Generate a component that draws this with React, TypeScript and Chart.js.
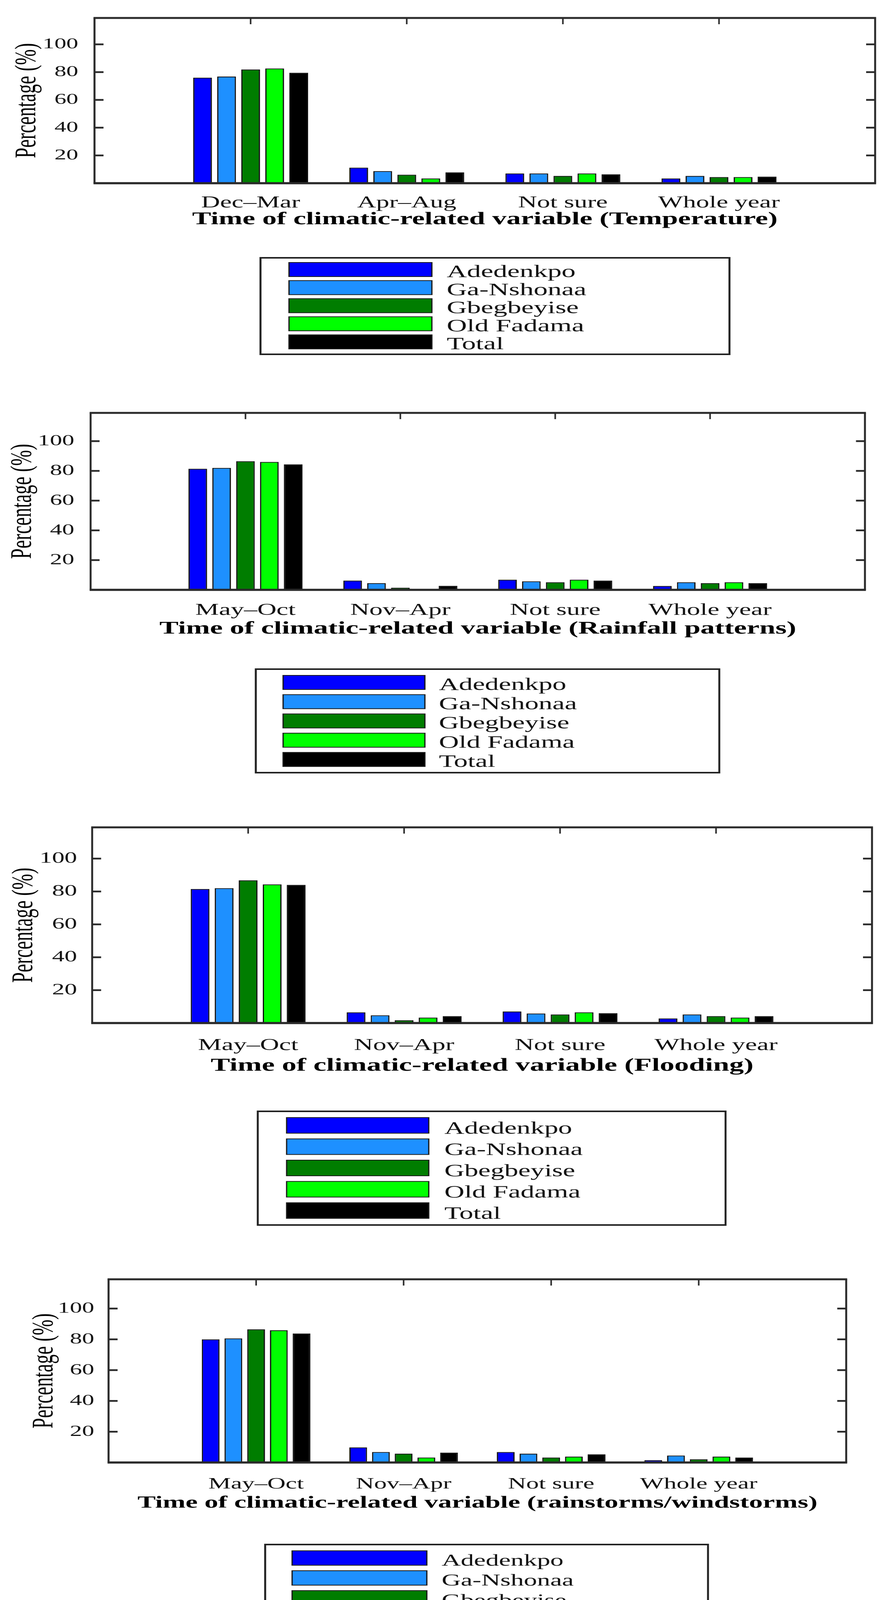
import { useEffect, useRef } from "react";
import { Chart, registerables } from "chart.js";
import type { Plugin } from "chart.js";

Chart.register(...registerables);

// the figure is drawn on a narrow canvas and stretched sideways to the page width,
// the same way the reference figure was stretched
const PAGE_W = 2274;
const PAGE_H = 4261;
const CANVAS_W = 1421;
const SX = PAGE_W / CANVAS_W;

const FONT = "'Liberation Serif', 'Times New Roman', serif";

const seriesNames = ["Adedenkpo", "Ga-Nshonaa", "Gbegbeyise", "Old Fadama", "Total"];
const seriesColors = ["#0000ff", "#1e90ff", "#007d00", "#00ff00", "#000000"];

const temperatureCategories = ["Dec–Mar", "Apr–Aug", "Not sure", "Whole year"];
const rainyCategories = ["May–Oct", "Nov–Apr", "Not sure", "Whole year"];

const yMax = 119;
const yStep = 20;

// Temperature
const tempAdedenkpo = [76.0, 11.2, 7.0, 3.4];
const tempGaNshonaa = [76.8, 8.7, 7.0, 5.2];
const tempGbegbeyise = [81.9, 6.1, 5.2, 4.4];
const tempOldFadama = [82.6, 3.4, 7.0, 4.4];
const tempTotal = [79.5, 7.8, 6.4, 4.7];

// Rainfall patterns
const rainAdedenkpo = [81.4, 6.2, 6.8, 2.6];
const rainGaNshonaa = [82.0, 4.5, 5.7, 5.1];
const rainGbegbeyise = [86.5, 1.4, 5.1, 4.5];
const rainOldFadama = [86.0, 0, 6.8, 5.1];
const rainTotal = [84.4, 2.7, 6.2, 4.5];

// Flooding
const floodAdedenkpo = [81.5, 6.5, 7.0, 2.8];
const floodGaNshonaa = [82.0, 4.7, 5.8, 5.2];
const floodGbegbeyise = [86.8, 1.7, 5.2, 4.2];
const floodOldFadama = [84.3, 3.3, 6.5, 3.3];
const floodTotal = [84.0, 4.2, 6.0, 4.2];

// Rainstorms / windstorms
const stormAdedenkpo = [80.0, 9.8, 6.8, 1.5];
const stormGaNshonaa = [80.6, 6.8, 5.7, 4.5];
const stormGbegbeyise = [86.5, 5.7, 3.2, 2.1];
const stormOldFadama = [85.9, 3.2, 3.8, 3.8];
const stormTotal = [83.8, 6.4, 5.3, 3.2];

type LegendBox = {
  x0: number; x1: number; y0: number; y1: number;
  swX0: number; swX1: number; rowTop: number; pitch: number; rowH: number;
  textX: number; firstTextW: number;
};

type PanelSpec = {
  title: string;
  categories: string[];
  values: number[][];
  // page coordinates
  top: number; height: number;
  left: number; right: number; plotTop: number; plotBottom: number;
  catY: number; titleY: number; yTitleX: number; tickGap: number;
  titleSize: number; catSize: number; tickSize: number;
  legend: LegendBox;
};

const panels: PanelSpec[] = [
  {
    title: "Time of climatic-related variable (Temperature)",
    categories: temperatureCategories,
    values: [tempAdedenkpo, tempGaNshonaa, tempGbegbeyise, tempOldFadama, tempTotal],
    top: 0, height: 1000,
    left: 242, right: 2241, plotTop: 46, plotBottom: 469,
    catY: 512, titleY: 562, yTitleX: 70, tickGap: 29,
    titleSize: 45.8, catSize: 42, tickSize: 38,
    legend: { x0: 667, x1: 1868, y0: 660, y1: 907, swX0: 740, swX1: 1106, rowTop: 672, pitch: 46.3, rowH: 36, textX: 1144, firstTextW: 330 },
  },
  {
    title: "Time of climatic-related variable (Rainfall patterns)",
    categories: rainyCategories,
    values: [rainAdedenkpo, rainGaNshonaa, rainGbegbeyise, rainOldFadama, rainTotal],
    top: 1000, height: 1020,
    left: 232, right: 2215, plotTop: 1057, plotBottom: 1510,
    catY: 1555, titleY: 1610, yTitleX: 59, tickGap: 29,
    titleSize: 46, catSize: 42.5, tickSize: 39,
    legend: { x0: 655, x1: 1842, y0: 1713, y1: 1978, swX0: 725, swX1: 1088, rowTop: 1729, pitch: 49.3, rowH: 36, textX: 1124, firstTextW: 326 },
  },
  {
    title: "Time of climatic-related variable (Flooding)",
    categories: rainyCategories,
    values: [floodAdedenkpo, floodGaNshonaa, floodGbegbeyise, floodOldFadama, floodTotal],
    top: 2030, height: 1130,
    left: 236, right: 2233, plotTop: 2118, plotBottom: 2619,
    catY: 2669, titleY: 2729, yTitleX: 62, tickGap: 26,
    titleSize: 46.5, catSize: 42.5, tickSize: 40,
    legend: { x0: 660, x1: 1858, y0: 2845, y1: 3136, swX0: 734, swX1: 1098, rowTop: 2861, pitch: 54.5, rowH: 40, textX: 1138, firstTextW: 327 },
  },
  {
    title: "Time of climatic-related variable (rainstorms/windstorms)",
    categories: rainyCategories,
    values: [stormAdedenkpo, stormGaNshonaa, stormGbegbeyise, stormOldFadama, stormTotal],
    top: 3170, height: 1091,
    left: 278, right: 2167, plotTop: 3275, plotBottom: 3744,
    catY: 3792, titleY: 3848, yTitleX: 114, tickGap: 24,
    titleSize: 43.8, catSize: 40.5, tickSize: 39,
    legend: { x0: 679, x1: 1813, y0: 3954, y1: 4228, swX0: 748, swX1: 1093, rowTop: 3970, pitch: 51, rowH: 37, textX: 1131, firstTextW: 312 },
  },
];

const Y_TITLE_SIZE = 48;
const LEGEND_SIZE = 44;

function line(ctx: CanvasRenderingContext2D, x0: number, y0: number, x1: number, y1: number) {
  ctx.beginPath();
  ctx.moveTo(x0, y0);
  ctx.lineTo(x1, y1);
  ctx.stroke();
}

// box round the plot, inward tick marks on the left, right and top
const framePlugin: Plugin<"bar"> = {
  id: "frame",
  afterDraw(chart) {
    const { ctx, chartArea: a, scales } = chart;
    const y = scales.y;
    const x = scales.x;
    ctx.save();
    ctx.strokeStyle = "#2a2a2a";
    ctx.lineCap = "butt";

    ctx.lineWidth = 4.5;
    y.ticks.forEach((t) => {
      const py = y.getPixelForValue(t.value);
      line(ctx, a.left, py, a.left + 23 / SX, py);
      line(ctx, a.right, py, a.right - 23 / SX, py);
    });

    const labels = chart.data.labels as string[];
    ctx.lineWidth = 4 / SX;
    labels.forEach((lab, i) => {
      if (!lab) return;
      const px = x.getPixelForValue(i);
      line(ctx, px, a.top, px, a.top + 16);
    });

    const hw = 5 / SX / 2;
    ctx.lineWidth = 5;
    line(ctx, a.left - hw, a.top, a.right + hw, a.top);
    ctx.lineWidth = 5.5;
    line(ctx, a.left - hw, a.bottom, a.right + hw, a.bottom);
    ctx.lineWidth = 5 / SX;
    line(ctx, a.left, a.top, a.left, a.bottom);
    line(ctx, a.right, a.top, a.right, a.bottom);
    ctx.restore();
  },
};

function makeLegendPlugin(spec: PanelSpec): Plugin<"bar"> {
  return {
    id: "boxLegend",
    afterDraw(chart) {
      const { ctx } = chart;
      const lg = spec.legend;
      const X = (v: number) => v / SX;
      const Y = (v: number) => v - spec.top;
      ctx.save();
      ctx.strokeStyle = "#222";
      ctx.lineWidth = 4;
      line(ctx, X(lg.x0), Y(lg.y0), X(lg.x1), Y(lg.y0));
      line(ctx, X(lg.x0), Y(lg.y1), X(lg.x1), Y(lg.y1));
      ctx.lineWidth = 5 / SX;
      line(ctx, X(lg.x0), Y(lg.y0) - 2, X(lg.x0), Y(lg.y1) + 2);
      line(ctx, X(lg.x1), Y(lg.y0) - 2, X(lg.x1), Y(lg.y1) + 2);

      // size the legend font so that the first label spans the width it has in the figure
      ctx.font = `${LEGEND_SIZE}px ${FONT}`;
      const first = String(chart.data.datasets[0].label ?? "");
      const measured = ctx.measureText(first).width || 1;
      const size = Math.min(60, Math.max(30, (LEGEND_SIZE * X(lg.firstTextW)) / measured));
      ctx.font = `${size}px ${FONT}`;
      ctx.textAlign = "left";
      ctx.textBaseline = "alphabetic";
      chart.data.datasets.forEach((ds, i) => {
        const top = Y(lg.rowTop + i * lg.pitch);
        const w = X(lg.swX1) - X(lg.swX0);
        ctx.fillStyle = ds.backgroundColor as string;
        ctx.fillRect(X(lg.swX0), top, w, lg.rowH);
        ctx.strokeStyle = "#1a1a1a";
        ctx.lineWidth = 2;
        ctx.strokeRect(X(lg.swX0), top, w, lg.rowH);
        ctx.fillStyle = "#111";
        ctx.fillText(ds.label ?? "", X(lg.textX), top + lg.rowH + 1);
      });
      ctx.restore();
    },
  };
}

function Panel({ spec }: { spec: PanelSpec }) {
  const chartRef = useRef<HTMLCanvasElement | null>(null);
  const chartInstanceRef = useRef<Chart<"bar", (number | null)[], string> | null>(null);

  useEffect(() => {
    const canvas = chartRef.current;
    if (!canvas) return;
    const ctx = canvas.getContext("2d");
    if (!ctx) return;

    if (chartInstanceRef.current) chartInstanceRef.current.destroy();

    const left = spec.left / SX;
    const right = spec.right / SX;
    const plotTop = spec.plotTop - spec.top;
    const plotBottom = spec.plotBottom - spec.top;
    const yAxisLeft = spec.yTitleX / SX - (Y_TITLE_SIZE * 1.2) / 2;
    const yAxisWidth = left - yAxisLeft;
    const xAxisHeight = spec.titleY - spec.top + (spec.titleSize * 1.2) / 2 - plotBottom;
    const catPad = spec.catY - spec.plotBottom - (spec.catSize * 1.2) / 2;

    // an empty slot either side so the groups sit at 1..4 of 0..5
    const labels = ["", ...spec.categories, ""];

    chartInstanceRef.current = new Chart(ctx, {
      type: "bar",
      data: {
        labels,
        datasets: seriesNames.map((name, i) => ({
          label: name,
          data: [null, ...spec.values[i], null],
          backgroundColor: seriesColors[i],
          borderColor: "#111111",
          borderWidth: 2,
          categoryPercentage: 0.77,
          barPercentage: 0.78,
        })),
      },
      options: {
        responsive: false,
        animation: false,
        devicePixelRatio: 2,
        layout: {
          padding: {
            left: yAxisLeft,
            right: CANVAS_W - right,
            top: plotTop,
            bottom: spec.height - plotBottom - xAxisHeight,
          },
        },
        scales: {
          x: {
            offset: false,
            grid: { display: false },
            border: { display: false },
            ticks: {
              autoSkip: false,
              maxRotation: 0,
              padding: catPad,
              color: "#111",
              font: { family: FONT, size: spec.catSize },
            },
            title: {
              display: true,
              text: spec.title,
              color: "#000",
              padding: 0,
              font: { family: FONT, size: spec.titleSize, weight: "bold" },
            },
            afterFit: (s) => {
              s.height = xAxisHeight;
            },
          },
          y: {
            min: 0,
            max: yMax,
            grid: { display: false },
            border: { display: false },
            ticks: {
              stepSize: yStep,
              includeBounds: false,
              padding: spec.tickGap / SX,
              color: "#111",
              font: { family: FONT, size: spec.tickSize },
              callback: (v) => (Number(v) === 0 ? "" : String(v)),
            },
            title: {
              display: true,
              text: "Percentage (%)",
              color: "#000",
              padding: 0,
              font: { family: FONT, size: Y_TITLE_SIZE },
            },
            afterFit: (s) => {
              s.width = yAxisWidth;
            },
          },
        },
        plugins: {
          legend: { display: false },
          tooltip: { enabled: false },
        },
      },
      plugins: [framePlugin, makeLegendPlugin(spec)],
    });

    return () => {
      if (chartInstanceRef.current) {
        chartInstanceRef.current.destroy();
        chartInstanceRef.current = null;
      }
    };
  }, [spec]);

  return (
    <div
      style={{
        position: "absolute",
        left: 0,
        top: spec.top,
        width: CANVAS_W,
        height: spec.height,
        transform: `scaleX(${SX})`,
        transformOrigin: "0 0",
      }}
    >
      <canvas ref={chartRef} width={CANVAS_W} height={spec.height} />
    </div>
  );
}

export default function App() {
  return (
    <div
      style={{
        position: "absolute",
        left: 0,
        top: 0,
        width: PAGE_W,
        height: PAGE_H,
        background: "#fff",
        overflow: "hidden",
      }}
    >
      {panels.map((p) => (
        <Panel key={p.title} spec={p} />
      ))}
    </div>
  );
}
